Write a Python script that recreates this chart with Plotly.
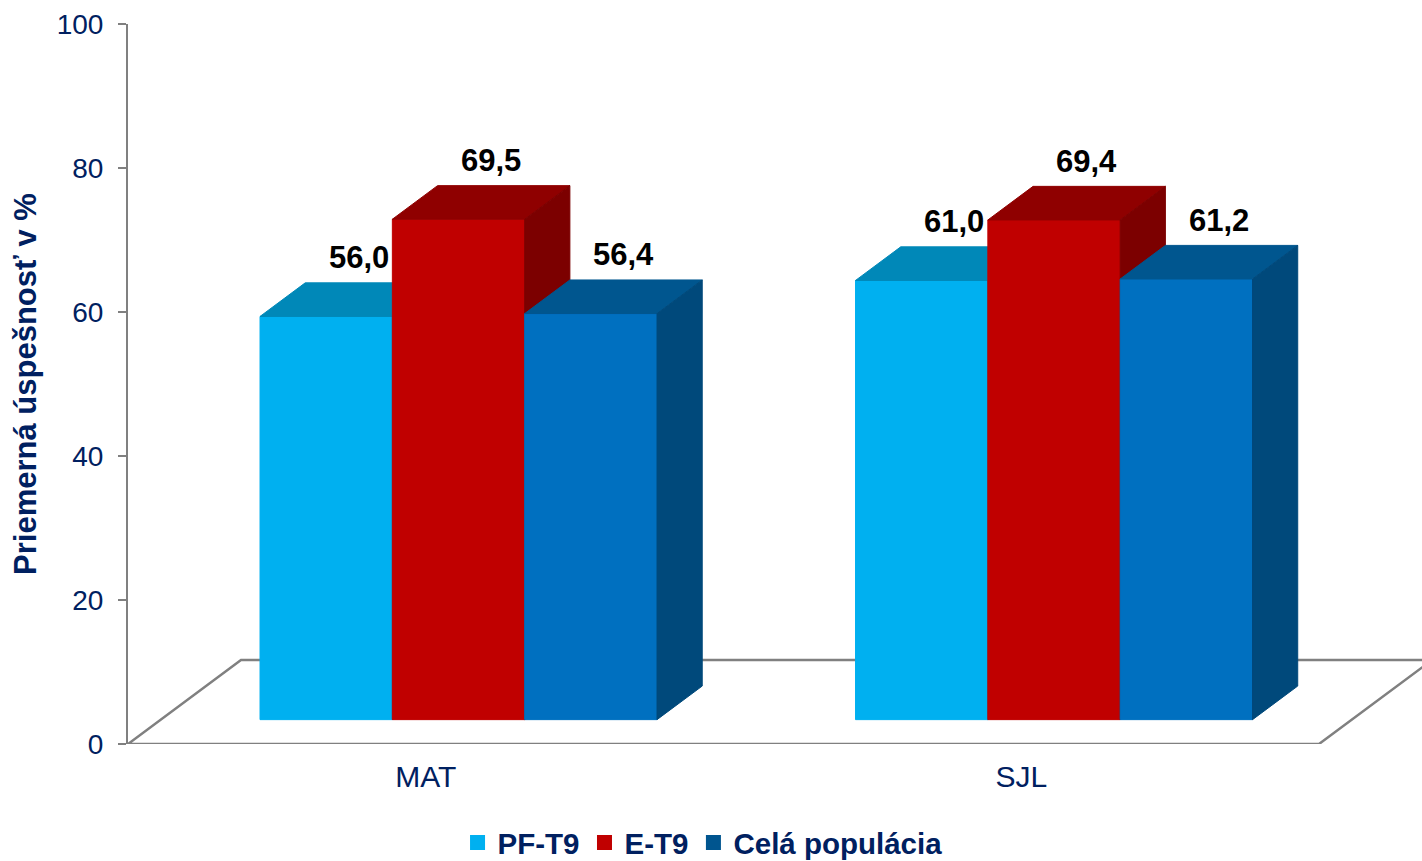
"""Priemerná úspešnosť – 3D stĺpcový graf (PF-T9, E-T9, celá populácia)."""

import plotly.graph_objects as go

CATEGORIES = ["MAT", "SJL"]
SERIES_NAMES = ["PF-T9", "E-T9", "Celá populácia"]
PF_T9 = [56.0, 61.0]
E_T9 = [69.5, 69.4]
CELA_POPULACIA = [56.4, 61.2]
Y_TICKS = [0, 20, 40, 60, 80, 100]

NAVY = "#002060"
AXIS_GREY = "#808080"
FONT = "Liberation Sans, Arial, sans-serif"

# face colours per series: front, top, side
FACES = [
    ("#00B0F0", "#0088B8", "#0079A6"),
    ("#C00000", "#8F0000", "#7C0000"),
    ("#0070C0", "#00568F", "#00497B"),
]
LEGEND_COLORS = ["#00B0F0", "#C00000", "#00558F"]

# pseudo-3D geometry (x in category units, y in axis units)
PX_PER_CAT = 595.5
PLOT_W = 1422 - 128
X_MAX = PLOT_W / PX_PER_CAT
FLOOR_DX = 113 / PX_PER_CAT
FLOOR_DY = 84 / 7.2
BAR_DEPTH = 0.40  # share of floor depth taken by the bars
BAR_FRONT = 0.29  # where the bar front sits inside the floor depth
GAP = 1.5  # gap width relative to one bar
BAR_W = 1 / (3 + GAP)


def _poly(points, color):
    xs = [p[0] for p in points] + [points[0][0]]
    ys = [p[1] for p in points] + [points[0][1]]
    return go.Scatter(
        x=xs,
        y=ys,
        mode="lines",
        fill="toself",
        fillcolor=color,
        line=dict(width=1, color=color),
        hoverinfo="skip",
        showlegend=False,
    )


def _fmt(value: float) -> str:
    return f"{value:.1f}".replace(".", ",")


fig = go.Figure()

# floor
n_cat = len(CATEGORIES)
floor_x = [X_MAX + 1, FLOOR_DX, 0.0, n_cat, n_cat + FLOOR_DX]
floor_y = [FLOOR_DY, FLOOR_DY, 0.0, 0.0, FLOOR_DY]
fig.add_trace(
    go.Scatter(
        x=floor_x,
        y=floor_y,
        mode="lines",
        line=dict(color=AXIS_GREY, width=2.5),
        hoverinfo="skip",
        showlegend=False,
    )
)

base_y = FLOOR_DY * BAR_FRONT
base_dx = FLOOR_DX * BAR_FRONT
depth_x = FLOOR_DX * BAR_DEPTH
depth_y = FLOOR_DY * BAR_DEPTH

series_values = [PF_T9, E_T9, CELA_POPULACIA]
annotations = []
for ci, _cat in enumerate(CATEGORIES):
    group_x0 = ci + base_dx + GAP * BAR_W / 2
    for si, values in enumerate(series_values):
        front, top, side = FACES[si]
        v = values[ci]
        x0 = group_x0 + si * BAR_W
        x1 = x0 + BAR_W
        y0 = base_y
        y1 = base_y + v
        fig.add_trace(_poly([(x0, y0), (x1, y0), (x1, y1), (x0, y1)], front))
        fig.add_trace(
            _poly(
                [
                    (x0, y1),
                    (x1, y1),
                    (x1 + depth_x, y1 + depth_y),
                    (x0 + depth_x, y1 + depth_y),
                ],
                top,
            )
        )
        fig.add_trace(
            _poly(
                [
                    (x1, y0),
                    (x1 + depth_x, y0 + depth_y),
                    (x1 + depth_x, y1 + depth_y),
                    (x1, y1),
                ],
                side,
            )
        )
        annotations.append(
            dict(
                x=(x0 + x1) / 2 + 0.055,
                y=y1 + depth_y,
                yshift=25,
                text=_fmt(v),
                showarrow=False,
                font=dict(size=31, color="#000000", family=FONT, weight="bold"),
            )
        )

# legend entries
for name, color in zip(SERIES_NAMES, LEGEND_COLORS):
    fig.add_trace(
        go.Scatter(
            x=[None],
            y=[None],
            mode="markers",
            name=name,
            marker=dict(symbol="square", size=15, color=color),
        )
    )

fig.update_layout(
    width=1422,
    height=861,
    margin=dict(l=128, r=0, t=24, b=117),
    paper_bgcolor="white",
    plot_bgcolor="white",
    font=dict(family=FONT, color=NAVY),
    annotations=annotations,
    legend=dict(
        orientation="h",
        x=0.444,
        xanchor="center",
        yref="container",
        y=0.021,
        yanchor="middle",
        font=dict(size=29.5, color=NAVY, family=FONT, weight="bold"),
        bgcolor="rgba(0,0,0,0)",
    ),
    xaxis=dict(
        range=[0, X_MAX],
        tickvals=[i + 0.5 for i in range(n_cat)],
        ticktext=CATEGORIES,
        showline=False,
        showgrid=False,
        zeroline=False,
        ticks="",
        automargin=False,
        ticklabelstandoff=12,
        tickfont=dict(size=30, color=NAVY, family=FONT),
    ),
    yaxis=dict(
        range=[0, 100],
        tickvals=Y_TICKS,
        showline=True,
        linecolor=AXIS_GREY,
        linewidth=2,
        ticks="outside",
        ticklen=8,
        tickwidth=2,
        tickcolor=AXIS_GREY,
        showgrid=False,
        zeroline=False,
        automargin=False,
        ticklabelstandoff=9,
        tickfont=dict(size=28, color=NAVY, family=FONT),
        title=dict(
            text="Priemerná úspešnosť v %",
            standoff=11,
            font=dict(size=31, color=NAVY, family=FONT, weight="bold"),
        ),
    ),
)

fig.write_html(
    "out.html",
    config={"displayModeBar": False},
    post_script="document.body.style.margin='0';",
)
